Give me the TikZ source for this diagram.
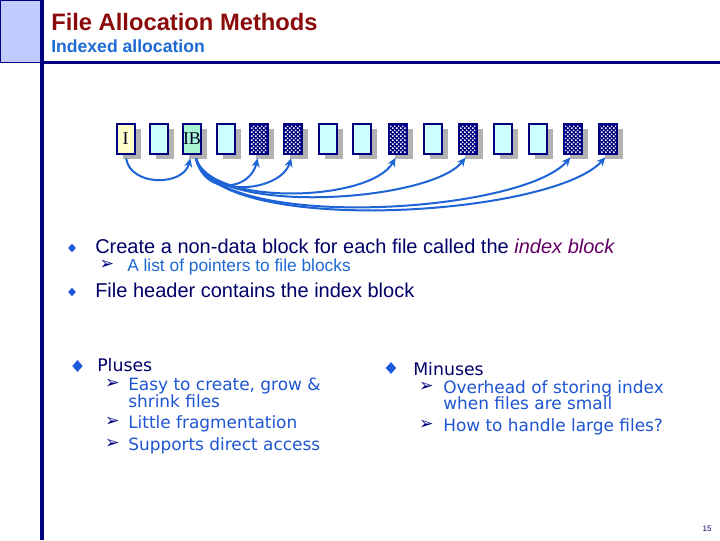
\documentclass[tikz,border=0pt]{standalone}
\usepackage{fontspec}
\setmainfont{Liberation Sans}
\newfontfamily\serifblk{Liberation Serif}
\newfontfamily\comicf{DejaVu Sans}
\usetikzlibrary{shadows,patterns,arrows.meta,shapes.geometric}
\pgfdeclarepatternformonly{bigdots}{\pgfqpoint{0pt}{0pt}}{\pgfqpoint{3.2pt}{3.2pt}}{\pgfqpoint{3.2pt}{3.2pt}}{%
  \pgfpathrectangle{\pgfqpoint{0.2pt}{0.2pt}}{\pgfqpoint{1.1pt}{1.1pt}}%
  \pgfpathrectangle{\pgfqpoint{1.8pt}{1.8pt}}{\pgfqpoint{1.1pt}{1.1pt}}%
  \pgfusepath{fill}}
\definecolor{navyc}{RGB}{0,0,128}
\definecolor{headfill}{RGB}{192,204,255}
\definecolor{titlered}{RGB}{139,10,10}
\definecolor{subblue}{RGB}{30,105,210}
\definecolor{textnavy}{RGB}{0,0,105}
\definecolor{idxpurple}{RGB}{102,0,102}
\definecolor{arrowblue}{RGB}{30,100,215}
\definecolor{bulletblue}{RGB}{30,90,220}
\definecolor{lightcyanc}{RGB}{204,255,255}
\definecolor{lightyel}{RGB}{255,255,204}
\definecolor{ibgreen}{RGB}{170,245,210}
\definecolor{shadowgray}{RGB}{178,178,178}
\definecolor{comicblue}{RGB}{30,85,210}
\tikzset{
  blk/.style={draw=navyc, line width=1.5pt, minimum width=13.5pt, minimum height=22.5pt,
    inner sep=0pt, fill=lightcyanc, text=black!85!blue,
    drop shadow={shadow xshift=4.5pt, shadow yshift=-4pt, fill=shadowgray, opacity=1}},
  dotblk/.style={blk, fill=navyc, postaction={pattern=bigdots, pattern color=white},
    postaction={draw=navyc, line width=1.5pt}},
  ptr/.style={draw=arrowblue, line width=1.5pt, -{Stealth[length=6.5pt,width=6pt]},
    shorten >=3pt, shorten <=3pt},
  txt/.style={anchor=base west, inner sep=0pt},
  dia/.style={diamond, fill=bulletblue, inner sep=0pt, minimum width=6pt, minimum height=6.5pt},
  bigdia/.style={diamond, fill=bulletblue, inner sep=0pt, minimum width=8pt, minimum height=9pt},
  arr/.style={inner sep=0pt, text=navyc, font=\comicf\fontsize{13}{14}\selectfont},
}
\begin{document}
\begin{tikzpicture}[x=0.75pt,y=-0.75pt]
\path[use as bounding box, fill=white] (0,0) rectangle (720,540);
% header frame
\draw[navyc, line width=0.75pt, fill=headfill] (0.5,0.5) rectangle (41,62);
\draw[navyc, line width=3pt] (41.5,0) -- (41.5,540);
\draw[navyc, line width=2.5pt] (41,62.5) -- (720,62.5);
\node[txt, text=titlered, font=\fontsize{17.8}{20}\selectfont\bfseries] (title) at (51,30) {File Allocation Methods};
\node[txt, text=subblue, font=\fontsize{13.2}{15}\selectfont\bfseries] (subtitle) at (51,52) {Indexed allocation};
% blocks
\node[blk, fill=lightyel, font=\serifblk\fontsize{13.5}{14}\selectfont] (b1) at (125.5,138.5) {I};
\node[blk] (b2) at (158.5,138.5) {};
\node[blk, fill=ibgreen, font=\serifblk\fontsize{13.5}{14}\selectfont] (b3) at (192,138.5) {IB};
\node[blk] (b4) at (225.5,138.5) {};
\node[dotblk] (b5) at (258.5,138.5) {};
\node[dotblk] (b6) at (292.5,138.5) {};
\node[blk] (b7) at (327.5,138.5) {};
\node[blk] (b8) at (362,138.5) {};
\node[dotblk] (b9) at (397.5,138.5) {};
\node[blk] (b10) at (433,138.5) {};
\node[dotblk] (b11) at (468,138.5) {};
\node[blk] (b12) at (503,138.5) {};
\node[blk] (b13) at (538,138.5) {};
\node[dotblk] (b14) at (573,138.5) {};
\node[dotblk] (b15) at (608,138.5) {};
% pointers
\draw[ptr] (b1.south) .. controls +(5,32) and +(-8,32) .. ([xshift=-0.5pt]b3.south);
\draw[ptr] ([xshift=2.25pt]b3.south) .. controls +(10,42) and +(-8.5,36) .. (b5.south);
\draw[ptr] ([xshift=2.25pt]b3.south) .. controls +(10,45) and +(-12.5,38) .. (b6.south);
\draw[ptr] ([xshift=2.25pt]b3.south) .. controls +(15,52) and +(-27.5,48) .. (b9.south);
\draw[ptr] ([xshift=2.25pt]b3.south) .. controls +(15,62) and +(-38,48) .. (b11.south);
\draw[ptr] ([xshift=2.25pt]b3.south) .. controls +(20,77) and +(-53,60) .. (b14.south);
\draw[ptr] ([xshift=2.25pt]b3.south) .. controls +(20,82) and +(-58,63) .. (b15.south);
% bullets
\node[dia] (d1) at (72,248) {};
\node[txt, text=textnavy, font=\fontsize{15}{18}\selectfont] (t1) at (95,253) {Create a non-data block for each file called the \textcolor{idxpurple}{\itshape index block}};
\node[arr] (a1) at (107,265) {➢};
\node[txt, text=subblue, font=\fontsize{13}{15}\selectfont] (t1a) at (127,271) {A list of pointers to file blocks};
\node[dia] (d2) at (72,292) {};
\node[txt, text=textnavy, font=\fontsize{15}{18}\selectfont] (t2) at (95,297) {File header contains the index block};
% pluses
\node[bigdia] (d3) at (77.5,366) {};
\node[txt, text=textnavy, font=\comicf\fontsize{13}{15}\selectfont] (pl) at (97,371) {Pluses};
\node[arr] (a2) at (112.5,384) {➢};
\node[txt, text=comicblue, font=\comicf\fontsize{12.7}{12.75}\selectfont] (p1) at (128,390) {Easy to create, grow \&};
\node[txt, text=comicblue, font=\comicf\fontsize{12.7}{12.75}\selectfont] (p1b) at (128,407) {shrink files};
\node[arr] (a3) at (112.5,421.5) {➢};
\node[txt, text=comicblue, font=\comicf\fontsize{12.7}{12.75}\selectfont] (p2) at (128,428) {Little fragmentation};
\node[arr] (a4) at (112.5,443.5) {➢};
\node[txt, text=comicblue, font=\comicf\fontsize{12.7}{12.75}\selectfont] (p3) at (128,450) {Supports direct access};
% minuses
\node[bigdia] (d4) at (391,368) {};
\node[txt, text=textnavy, font=\comicf\fontsize{13}{15}\selectfont] (mi) at (413,375) {Minuses};
\node[arr] (a5) at (426.5,387) {➢};
\node[txt, text=comicblue, font=\comicf\fontsize{12.7}{12.75}\selectfont] (m1) at (443,393) {Overhead of storing index};
\node[txt, text=comicblue, font=\comicf\fontsize{12.7}{12.75}\selectfont] (m1b) at (443,409) {when files are small};
\node[arr] (a6) at (426.5,425) {➢};
\node[txt, text=comicblue, font=\comicf\fontsize{12.7}{12.75}\selectfont] (m2) at (443,431) {How to handle large files?};
% page number
\node[inner sep=0pt, text=textnavy, font=\fontsize{6}{7}\selectfont] (pg) at (707,529) {15};
\end{tikzpicture}
\end{document}
